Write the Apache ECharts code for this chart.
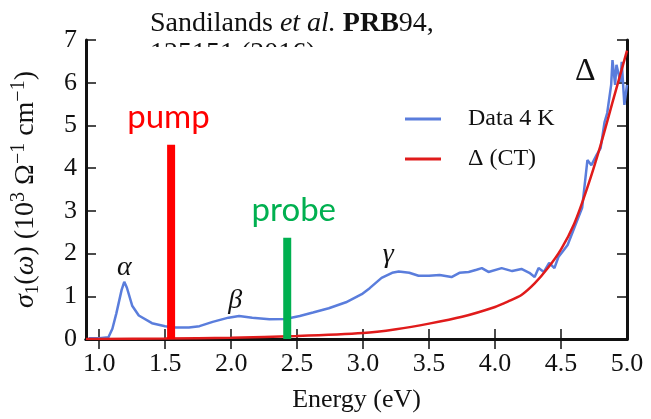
<!DOCTYPE html>
<html>
<head>
<meta charset="utf-8">
<script src="https://cdn.jsdelivr.net/npm/echarts@6/dist/echarts.min.js"></script>
<style>
  html, body { margin: 0; padding: 0; background: #fff; }
  #chart { width: 651px; height: 419px; }
</style>
</head>
<body>
<div id="chart"></div>
<script>
// optical conductivity, 4 K
var dataEnergy = [0.92, 1.0, 1.07, 1.1, 1.13, 1.17, 1.19, 1.21, 1.25, 1.3, 1.4, 1.5, 1.58, 1.68, 1.76, 1.86, 1.98, 2.06, 2.16, 2.29,
    2.41, 2.52, 2.62, 2.74, 2.87, 2.99, 3.05, 3.14, 3.22, 3.27, 3.35, 3.42, 3.5, 3.58, 3.67, 3.73, 3.8, 3.86, 3.9, 3.95,
    4.05, 4.13, 4.2, 4.26, 4.3, 4.33, 4.37, 4.41, 4.45, 4.48, 4.52, 4.55, 4.6, 4.66, 4.7, 4.73, 4.77, 4.8, 4.83, 4.85,
    4.88, 4.89, 4.91, 4.92, 4.95, 4.96, 4.98, 5.0];
var dataSigma = [0.02, 0.02, 0.04, 0.24, 0.6, 1.15, 1.34, 1.2, 0.78, 0.55, 0.37, 0.3, 0.27, 0.27, 0.3, 0.4, 0.5, 0.54, 0.5, 0.46,
    0.47, 0.54, 0.62, 0.72, 0.86, 1.05, 1.19, 1.43, 1.55, 1.58, 1.55, 1.48, 1.48, 1.5, 1.45, 1.55, 1.57, 1.62, 1.66, 1.57,
    1.66, 1.59, 1.64, 1.55, 1.45, 1.66, 1.57, 1.78, 1.66, 1.92, 2.08, 2.2, 2.6, 3.07, 4.19, 4.07, 4.31, 4.47, 5.08, 5.29,
    5.95, 6.53, 5.95, 6.42, 6.02, 6.49, 5.48, 5.95];

// charge-transfer (CT) model curve
var ctEnergy = [0.9, 1.0, 1.5, 2.0, 2.5, 3.0, 3.25, 3.5, 3.75, 4.0, 4.1, 4.2, 4.3, 4.4, 4.5, 4.6, 4.7, 4.8, 4.9, 5.0];
var ctSigma = [0, 0, 0.01, 0.03, 0.07, 0.14, 0.23, 0.36, 0.52, 0.75, 0.88, 1.03, 1.3, 1.66, 2.1, 2.7, 3.55, 4.54, 5.65, 6.75];

// pump / probe photon energies and bar heights
var pumpEnergy = 1.545, pumpHeight = 4.55;
var probeEnergy = 2.425, probeHeight = 2.37;

var xTicks = [1.0, 1.5, 2.0, 2.5, 3.0, 3.5, 4.0, 4.5, 5.0];
var xTicksTop = [1.0, 1.5, 2.0, 2.5, 3.0, 3.5, 4.0, 4.5];

// peak labels, placed in data units
var notes = [
    { text: 'α', x: 1.19, y: 1.67 },
    { text: 'β', x: 2.03, y: 0.9 },
    { text: 'γ', x: 3.19, y: 1.97 }
];

function zip(a, b) {
    return a.map(function (v, i) { return [v, b[i]]; });
}

var serif = 'Liberation Serif';
var ink = '#111';

var myChart = echarts.init(document.getElementById('chart'));

var option = {
    animation: false,
    backgroundColor: '#fff',
    grid: { left: 86, right: 24, top: 40, bottom: 80, outerBoundsMode: 'none' },
    legend: {
        data: ['Data 4 K', 'Δ (CT)'],
        orient: 'vertical',
        left: 400,
        top: 100,
        icon: 'rect',
        itemWidth: 36,
        itemHeight: 3,
        itemGap: 12,
        textStyle: { fontFamily: serif, fontSize: 24, color: ink, lineHeight: 28, padding: [0, 0, 0, 22] }
    },
    xAxis: [{
        type: 'value',
        min: 0.9,
        max: 5.0,
        name: 'Energy (eV)',
        nameLocation: 'middle',
        nameGap: 48,
        nameTextStyle: { fontFamily: serif, fontSize: 26, color: ink },
        axisLine: { lineStyle: { color: ink, width: 3 } },
        axisTick: { inside: true, length: 10, customValues: xTicks, lineStyle: { color: ink, width: 1.5 } },
        axisLabel: {
            customValues: xTicks,
            margin: 12,
            fontFamily: serif, fontSize: 26, color: ink,
            formatter: function (v) { return v.toFixed(1); }
        },
        splitLine: { show: false }
    }, {
        type: 'value',
        position: 'top',
        min: 0.9,
        max: 5.0,
        axisLine: { lineStyle: { color: ink, width: 3 } },
        axisTick: { inside: true, length: 10, customValues: xTicksTop, lineStyle: { color: ink, width: 1.5 } },
        axisLabel: { show: false },
        splitLine: { show: false }
    }],
    yAxis: [{
        type: 'value',
        min: 0,
        max: 7,
        interval: 1,
        name: '{i|σ}{s|1}({i|ω}) (10{p|3} Ω{p|−1} cm{p|−1})',
        nameLocation: 'middle',
        nameRotate: 90,
        nameGap: 43,
        nameMoveOverlap: false,
        nameTextStyle: {
            fontFamily: serif, fontSize: 28, color: ink,
            rich: {
                i: { fontFamily: serif, fontSize: 28, fontStyle: 'italic', color: ink },
                s: { fontFamily: serif, fontSize: 19, color: ink, verticalAlign: 'bottom', lineHeight: 34 },
                p: { fontFamily: serif, fontSize: 20, color: ink, verticalAlign: 'top', lineHeight: 34 }
            }
        },
        axisLine: { show: true, lineStyle: { color: ink, width: 3 } },
        axisTick: { show: true, inside: true, length: 10, lineStyle: { color: ink, width: 1.5 } },
        axisLabel: { margin: 9, fontFamily: serif, fontSize: 26, color: ink },
        splitLine: { show: false }
    }, {
        type: 'value',
        position: 'right',
        min: 0,
        max: 7,
        interval: 1,
        axisLine: { show: true, lineStyle: { color: ink, width: 3 } },
        axisTick: { show: true, inside: true, length: 10, lineStyle: { color: ink, width: 1.5 } },
        axisLabel: { show: false },
        splitLine: { show: false }
    }],
    graphic: [{
        type: 'text',
        left: 150,
        top: 10,
        style: {
            text: 'Sandilands {it|et al.} {b|PRB}94,',
            fontFamily: serif, fontSize: 28, fill: ink,
            rich: {
                it: { fontFamily: serif, fontSize: 28, fontStyle: 'italic', color: ink },
                b: { fontFamily: serif, fontSize: 28, fontWeight: 'bold', color: ink }
            }
        }
    }, {
        // second line of the reference, mostly hidden behind the plot
        type: 'text',
        left: 150,
        top: 40,
        z: -2,
        style: { text: '125151 (2016)', fontFamily: serif, fontSize: 28, fill: ink }
    }, {
        type: 'rect',
        left: 145,
        top: 47,
        z: -1,
        shape: { width: 200, height: 30 },
        style: { fill: '#fff' }
    }, {
        type: 'text',
        left: 575,
        top: 56,
        style: { text: 'Δ', fontFamily: serif, fontSize: 32, fill: ink }
    }],
    series: [{
        name: 'Δ (CT)',
        type: 'line',
        data: zip(ctEnergy, ctSigma),
        smooth: 0.25,
        showSymbol: false,
        color: '#e01b1b',
        lineStyle: { width: 2.5 },
        z: 3
    }, {
        name: 'Data 4 K',
        type: 'line',
        data: zip(dataEnergy, dataSigma),
        showSymbol: false,
        color: '#5a7ddc',
        lineStyle: { width: 2.5 },
        z: 2
    }, {
        name: 'pump',
        type: 'line',
        data: [[pumpEnergy, 0], [pumpEnergy, pumpHeight]],
        showSymbol: false,
        color: '#ff0000',
        lineStyle: { width: 8, cap: 'butt' },
        z: 4
    }, {
        name: 'probe',
        type: 'line',
        data: [[probeEnergy, 0], [probeEnergy, probeHeight]],
        showSymbol: false,
        color: '#00b050',
        lineStyle: { width: 8, cap: 'butt' },
        z: 4
    }, {
        name: 'notes',
        type: 'scatter',
        symbolSize: 0,
        silent: true,
        itemStyle: { opacity: 1 },
        data: notes.map(function (n) { return { value: [n.x, n.y], name: n.text }; }),
        label: {
            show: true,
            position: 'inside',
            formatter: function (p) { return p.name; },
            fontFamily: serif,
            fontSize: 28,
            fontStyle: 'italic',
            color: ink,
            textBorderWidth: 0
        },
        z: 5
    }, {
        name: 'pumpprobe',
        type: 'scatter',
        symbolSize: 0,
        silent: true,
        itemStyle: { opacity: 1 },
        data: [
            { value: [pumpEnergy - 0.02, 5.18], name: 'pump', label: { color: '#ff0000' } },
            { value: [probeEnergy + 0.05, 3.02], name: 'probe', label: { color: '#00b050' } }
        ],
        label: {
            show: true,
            position: 'inside',
            formatter: function (p) { return p.name; },
            fontFamily: 'Lato',
            fontSize: 33,
            textBorderWidth: 0,
            textBorderColor: 'transparent'
        },
        z: 5
    }]
};

myChart.setOption(option);
</script>
</body>
</html>
